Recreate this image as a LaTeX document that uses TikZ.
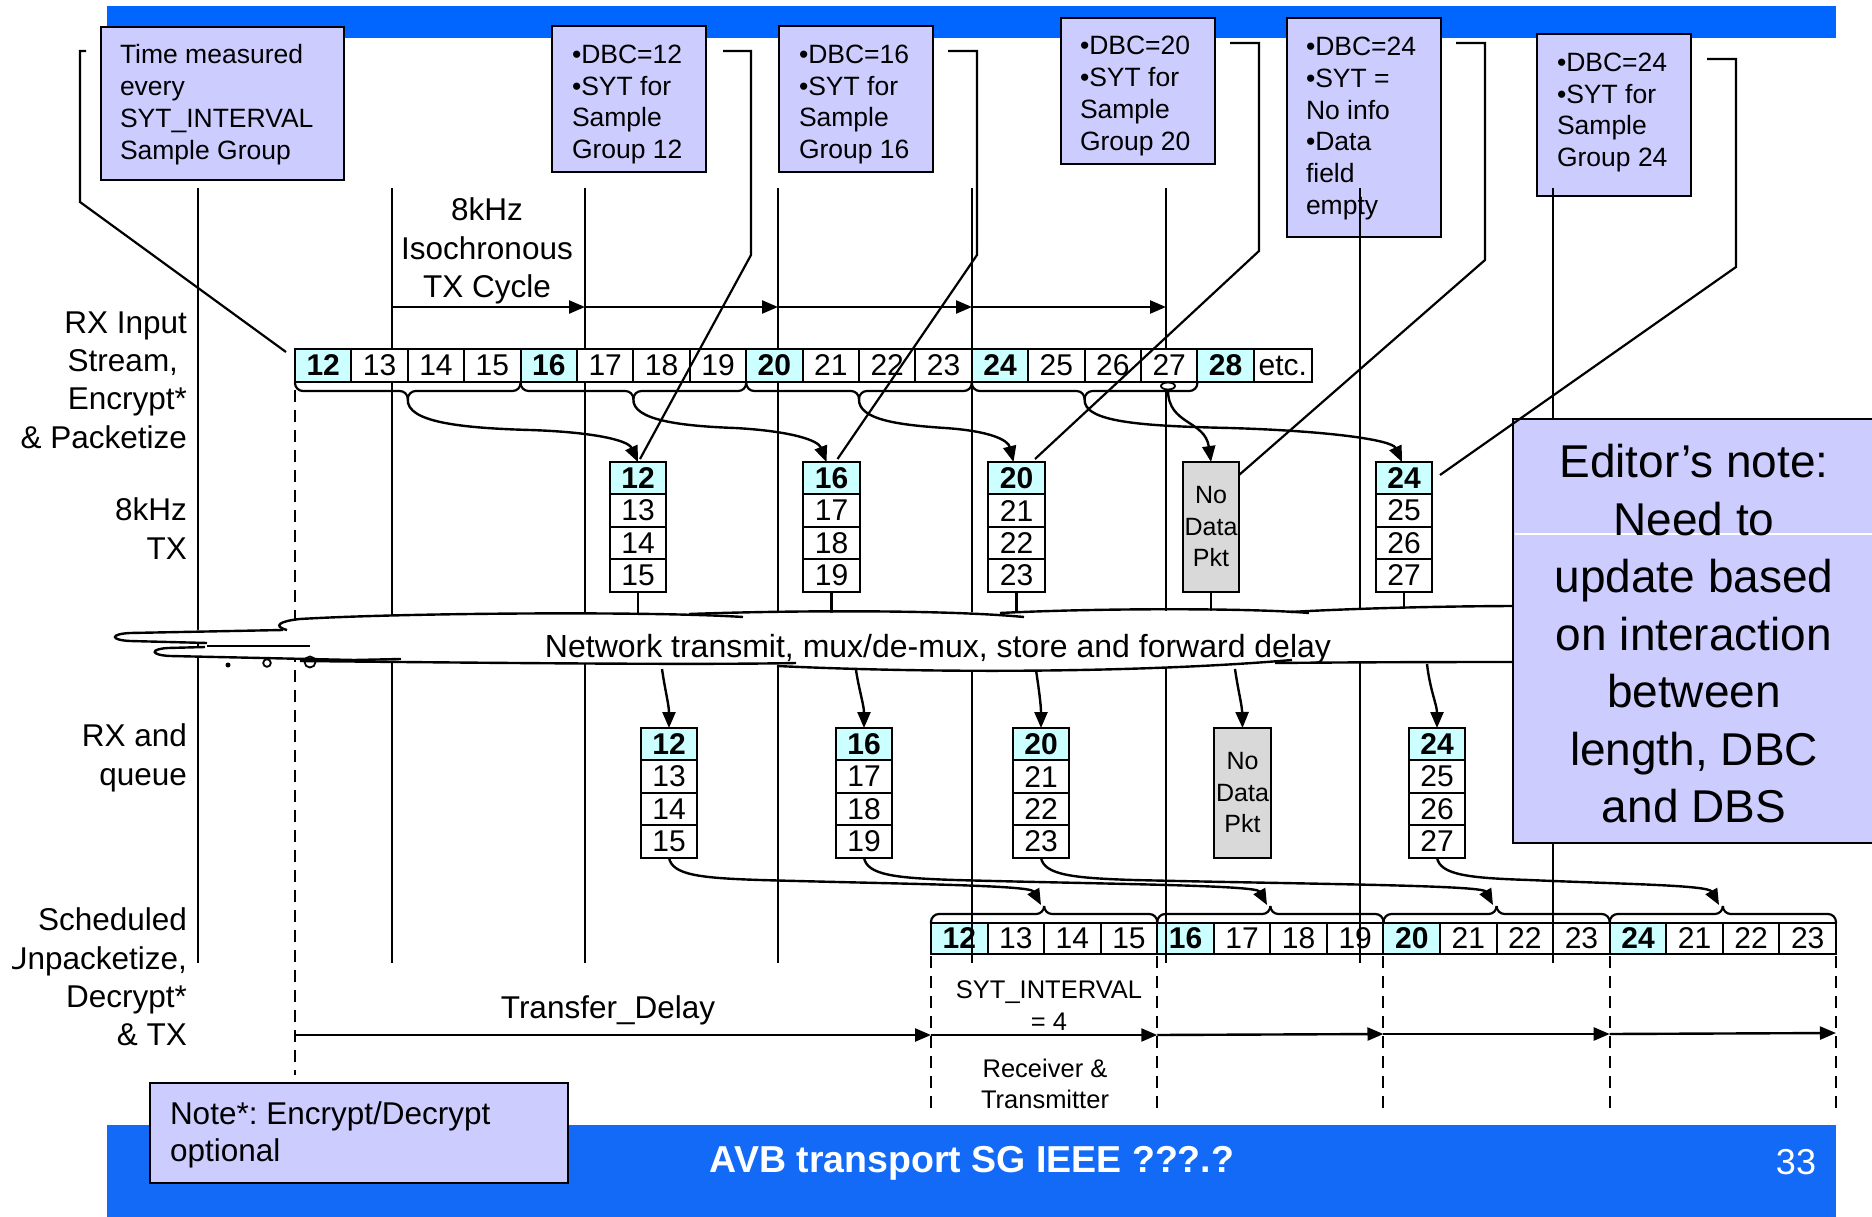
\documentclass[tikz,border=0pt]{standalone}
\usepackage{fontspec}
\setmainfont{Liberation Sans}
\usetikzlibrary{arrows.meta}
\definecolor{barblue}{RGB}{0,102,255}
\definecolor{barbluetwo}{RGB}{18,106,246}
\definecolor{lav}{RGB}{204,204,255}
\definecolor{cyanc}{RGB}{204,255,255}
\definecolor{grayc}{RGB}{217,217,217}
\newcommand{\fsz}[2]{\fontsize{#1}{#2}\selectfont}
\frenchspacing
% packet column: name, x, y, width, first number
\newcommand{\pktcol}[5]{%
  \pgfmathtruncatemacro{\pkb}{#5+1}\pgfmathtruncatemacro{\pkc}{#5+2}\pgfmathtruncatemacro{\pkd}{#5+3}%
  \node[hcell, minimum width=#4pt, minimum height=32.4pt, anchor=north west] (#1-1) at (#2,#3) {#5};
  \node[cell, minimum width=#4pt, minimum height=32.4pt, anchor=north] (#1-2) at (#1-1.south) {\pkb};
  \node[cell, minimum width=#4pt, minimum height=32.4pt, anchor=north] (#1-3) at (#1-2.south) {\pkc};
  \node[cell, minimum width=#4pt, minimum height=32.4pt, anchor=north] (#1-4) at (#1-3.south) {\pkd};
}
% brace: x1, x2, y0, direction (+1 down, -1 up)
\newcommand{\bracex}[4]{%
  \pgfmathsetmacro{\bxm}{(#1+#2)/2}%
  \draw[brc] (#1,#3) -- (#1,#3+#4*9) -- (\bxm,#3+#4*9) -- (\bxm,#3+#4*17);
  \draw[brc] (#2,#3) -- (#2,#3+#4*9) -- (\bxm,#3+#4*9) -- (\bxm,#3+#4*17);
}
\begin{document}
\begin{tikzpicture}[x=1pt,y=-1pt,
  every node/.append style={inner sep=0pt, outer sep=0pt},
  grid/.style={line width=2.6pt},
  dashv/.style={line width=2pt, dash pattern=on 12pt off 8pt},
  cell/.style={draw, line width=2pt, fill=white, minimum width=56.4pt, minimum height=33pt, font={\fsz{30}{30}}},
  hcell/.style={cell, fill=cyanc, font={\fsz{30}{30}\bfseries}},
  gcell/.style={draw, line width=2pt, fill=grayc, align=center, font={\fsz{25}{31.5}}},
  callbox/.style={draw, line width=2.5pt, fill=lav, anchor=north west},
  calltext/.style={align=left, anchor=west, font={\fsz{26.5}{31.8}}},
  conn/.style={line width=2.2pt},
  arr/.style={line width=2.4pt, -{Triangle[length=16pt,width=13pt]}},
  brc/.style={line width=2.2pt, rounded corners=8pt},
  cl/.style={line width=2.4pt},
  lbl/.style={align=right, anchor=east, font={\fsz{31.5}{38.3}}}]
\useasboundingbox (0,0) rectangle (1872,1217);

% ---------- blue bars
\fill[barblue] (107,6) rectangle (1836,38);
\fill[barbluetwo] (107,1125) rectangle (1836,1217);

% ---------- callout boxes
\node[callbox, minimum width=243pt, minimum height=153pt] (tbox) at (101,27) {};
\node[calltext] (ttxt) at (120,104.5) {Time measured\\every\\SYT\_INTERVAL\\Sample Group};
\node[callbox, minimum width=154pt, minimum height=146pt] (b12) at (552,26) {};
\node[calltext] (b12t) at (572,104.5) {•DBC=12\\•SYT for\\Sample\\Group 12};
\node[callbox, minimum width=154pt, minimum height=146pt] (b16) at (779,26) {};
\node[calltext] (b16t) at (799,104.5) {•DBC=16\\•SYT for\\Sample\\Group 16};
\node[callbox, minimum width=154pt, minimum height=146pt] (b20) at (1061,18) {};
\node[calltext] (b20t) at (1080,96) {•DBC=20\\•SYT for\\Sample\\Group 20};
\node[callbox, minimum width=154pt, minimum height=219pt] (b24n) at (1287,18) {};
\node[calltext] (b24nt) at (1306,128.5) {•DBC=24\\•SYT =\\No info\\•Data\\field\\empty};
\node[callbox, minimum width=154pt, minimum height=162pt] (b24) at (1537,34) {};
\node[calltext] (b24t) at (1557,112.5) {•DBC=24\\•SYT for\\Sample\\Group 24};

% ---------- output stream (under the grid lines)
\foreach \n [count=\i from 0] in {12,13,14,15,16,17,18,19,20,21,22,23,24,21,22,23} {
  \pgfmathtruncatemacro{\md}{mod(\n,4)}
  \ifnum\md=0
    \node[hcell, minimum width=56.56pt, minimum height=31pt, anchor=north west] (out\i) at ({931+56.56*\i},923) {\n};
  \else
    \node[cell, minimum width=56.56pt, minimum height=31pt, anchor=north west] (out\i) at ({931+56.56*\i},923) {\n};
  \fi
}
\bracex{931}{1157.24}{923}{-1}
\bracex{1157.24}{1383.48}{923}{-1}
\bracex{1383.48}{1609.72}{923}{-1}
\bracex{1609.72}{1835.96}{923}{-1}

% ---------- grid lines
\foreach \x [count=\i] in {198,392,585,778,972,1166,1360,1553} {
  \coordinate (gt\i) at (\x,188);
  \coordinate (gb\i) at (\x,963);
  \draw[grid] (gt\i) -- (gb\i);
}

% ---------- dashed lines
\coordinate (d0t) at (295,390); \coordinate (d0b) at (295,1075);
\draw[dashv] (d0t) -- (d0b);
\foreach \x [count=\i] in {931,1157.24,1383.48,1609.72,1835.96} {
  \coordinate (odt\i) at (\x,956);
  \coordinate (odb\i) at (\x,1113);
  \draw[dashv] (odt\i) -- (odb\i);
}

% ---------- 8kHz cycle arrows
\foreach \x [count=\i] in {392,585,778,972,1166} { \coordinate (cy\i) at (\x,307); }
\draw[arr] (cy1) -- (cy2);
\draw[arr] (cy2) -- (cy3);
\draw[arr] (cy3) -- (cy4);
\draw[arr] (cy4) -- (cy5);
\node[font={\fsz{31.5}{38.3}}, align=center] (cyc) at (487,251) {8kHz\\Isochronous\\TX Cycle};

% ---------- input stream
\foreach \n [count=\i from 0] in {12,...,28} {
  \pgfmathtruncatemacro{\md}{mod(\n,4)}
  \ifnum\md=0
    \node[hcell, anchor=north west] (in\n) at ({295+56.4*\i},349) {\n};
  \else
    \node[cell, anchor=north west] (in\n) at ({295+56.4*\i},349) {\n};
  \fi
}
\node[cell, anchor=north west, minimum width=58pt] (inetc) at (1253.8,349) {etc.};
\bracex{295}{520.6}{382}{1}
\bracex{520.6}{746.2}{382}{1}
\bracex{746.2}{971.8}{382}{1}
\bracex{971.8}{1197.4}{382}{1}
\draw[line width=1.8pt, fill=white] (1168,386) ellipse [x radius=7pt, y radius=3.5pt];
\coordinate (ov) at (1168,390);
\coordinate (bt1) at (407.8,399);
\coordinate (bt2) at (633.4,399);
\coordinate (bt3) at (859,399);
\coordinate (bt4) at (1084.6,399);

% ---------- 8kHz TX packets
\pktcol{txA}{610}{462}{56}{12}
\pktcol{txB}{803}{462}{57}{16}
\pktcol{txC}{988}{462}{57}{20}
\node[gcell, anchor=north west, minimum width=56pt, minimum height=129.6pt] (nd1) at (1183,462) {No\\Data\\Pkt};
\pktcol{txE}{1376}{462}{56}{24}

\draw[arr] (bt1) .. controls (406,422) and (460,428) .. (530,430) .. controls (592,432) and (628,440) .. (txA-1.north);
\draw[arr] (bt2) .. controls (632,420) and (680,426) .. (735,428) .. controls (790,431) and (818,440) .. ([xshift=-5pt]txB-1.north);
\draw[arr] (bt3) .. controls (858,420) and (900,425) .. (945,428) .. controls (990,431) and (1008,440) .. ([xshift=-3pt]txC-1.north);
\draw[arr] (bt4) .. controls (1083,422) and (1140,426) .. (1230,428) .. controls (1330,431) and (1392,440) .. ([xshift=-2pt]txE-1.north);
\draw[arr] (ov) .. controls (1168,425) and (1205,420) .. (nd1.north);

% packet to cloud
\coordinate (ctA) at (638,615);
\coordinate (ctB) at (831.5,614);
\coordinate (ctC) at (1016.5,614);
\coordinate (ctD) at (1211,613);
\coordinate (ctE) at (1404,612);
\draw[conn] (txA-4.south) -- (ctA);
\draw[conn] (txB-4.south) -- (ctB);
\draw[conn] (txC-4.south) -- (ctC);
\draw[conn] (nd1.south) -- (ctD);
\draw[conn] (txE-4.south) -- (ctE);

% ---------- network cloud
\fill[white] (283,626) .. controls (290,617) and (330,616) .. (420,615) -- (743,613) -- (1024,612) -- (1309,610) -- (1520,607)
  -- (1520,664) -- (1292,662) .. controls (1150,672) and (900,672) .. (777,665) -- (354,661) -- (170,657)
  .. controls (148,655) and (148,649) .. (165,648) -- (205,647) -- (207,643) -- (130,641)
  .. controls (108,639) and (108,634) .. (130,633) -- cycle;
\draw[cl] (743,617) .. controls (650,611) and (400,613) .. (300,619) .. controls (280,621) and (272,626) .. (287,630);
\draw[cl] (283,630) -- (130,633) .. controls (110,634) and (110,640) .. (130,641) -- (207,643);
\draw[cl] (207,646) -- (310,646);
\draw[cl] (205,647) -- (168,648) .. controls (150,649) and (150,655) .. (170,656) -- (354,660) -- (401,659);
\draw[cl] (300,661) .. controls (500,663) and (700,665) .. (796,663);
\draw[cl] (777,666) .. controls (950,674) and (1150,672) .. (1292,660);
\draw[cl] (1275,663) .. controls (1380,662) and (1480,662) .. (1520,662);
\draw[cl] (689,614) .. controls (800,610) and (950,610) .. (1024,617);
\draw[cl] (1000,613) .. controls (1100,608) and (1250,608) .. (1309,613);
\draw[cl] (1290,612) .. controls (1380,607) and (1480,606) .. (1520,606);
\fill (228,665) circle (2.5pt);
\draw[line width=1.8pt] (267,663) circle (3.8pt);
\draw[line width=1.8pt] (310,662) circle (5.5pt);
\node[font={\fsz{32}{38}}] (net) at (938,649) {Network transmit, mux/de-mux, store and forward delay};

% ---------- RX queue packets
\pktcol{qA}{641}{728}{56}{12}
\pktcol{qB}{836}{728}{56}{16}
\pktcol{qC}{1013}{728}{56}{20}
\node[gcell, anchor=north west, minimum width=57pt, minimum height=129.6pt] (nd2) at (1214,728) {No\\Data\\Pkt};
\pktcol{qE}{1409}{728}{56}{24}

\coordinate (cbA) at (662,669);
\coordinate (cbB) at (856,670);
\coordinate (cbC) at (1036,670);
\coordinate (cbD) at (1235,669);
\coordinate (cbE) at (1427,664);
\draw[arr] (cbA) .. controls (665,690) and (669,705) .. (qA-1.north);
\draw[arr] (cbB) .. controls (859,690) and (864,705) .. (qB-1.north);
\draw[arr] (cbC) .. controls (1039,690) and (1041,705) .. (qC-1.north);
\draw[arr] (cbD) .. controls (1238,690) and (1242,705) .. (nd2.north);
\draw[arr] (cbE) .. controls (1430,690) and (1437,705) .. (qE-1.north);

% queue to output
\coordinate (ob1) at (1041,905);
\coordinate (ob2) at (1267,905);
\coordinate (ob3) at (1493,905);
\coordinate (ob4) at (1719,905);
\draw[arr] (qA-4.south) .. controls (672,875) and (700,878) .. (760,880) .. controls (900,884) and (1030,885) .. (ob1);
\draw[arr] (qB-4.south) .. controls (867,875) and (895,878) .. (955,880) .. controls (1100,884) and (1256,885) .. (ob2);
\draw[arr] (qC-4.south) .. controls (1044,875) and (1073,878) .. (1133,880) .. controls (1300,884) and (1482,885) .. (ob3);
\draw[arr] (qE-4.south) .. controls (1440,875) and (1469,878) .. (1529,880) .. controls (1620,884) and (1708,885) .. (ob4);

% ---------- editor's note
\fill[lav] (1513,419) rectangle (1872,843);
\draw[line width=2.5pt] (1872,419) -- (1513,419) -- (1513,843) -- (1872,843);
\draw[white, line width=1.2pt] (1515,534) -- (1872,534);
\node[font={\fsz{46}{57.5}}, align=center] (ednote) at (1694,634) {Editor’s note:\\Need to\\update based\\on interaction\\between\\length, DBC\\and DBS};

% ---------- transfer delay arrows
\coordinate (tr0) at (295,1035);
\coordinate (tr1) at (931,1035);
\coordinate (tr2) at (1157.24,1035);
\coordinate (tr3) at (1383.48,1034);
\coordinate (tr4) at (1609.72,1034);
\coordinate (tr5) at (1835.96,1033);
\draw[arr] (tr0) -- (tr1);
\draw[arr] (tr1) -- (tr2);
\draw[arr] (tr2) -- (tr3);
\draw[arr] (tr3) -- (tr4);
\draw[arr] (tr4) -- (tr5);
\node[font={\fsz{31.5}{36}}] (tdel) at (608,1010) {Transfer\_Delay};
\node[font={\fsz{25.5}{32}}, align=center] (syt) at (1049,1006) {SYT\_INTERVAL\\= 4};
\node[font={\fsz{25.5}{31}}, align=center] (rxtx) at (1045,1084) {Receiver \&\\Transmitter};

% ---------- callout connectors
\coordinate (k0a) at (86,51); \coordinate (k0b) at (80,51); \coordinate (k0c) at (80,202);
\draw[conn] (k0a) -- (k0b) -- (k0c) -- ([xshift=-9pt,yshift=-3pt]in12.north west);
\coordinate (k1a) at (723,51); \coordinate (k1b) at (751,51); \coordinate (k1c) at (751,255);
\draw[conn] (k1a) -- (k1b) -- (k1c) -- ([xshift=2pt,yshift=3pt]txA-1.north);
\coordinate (k2a) at (948,51); \coordinate (k2b) at (977,51); \coordinate (k2c) at (977,255);
\draw[conn] (k2a) -- (k2b) -- (k2c) -- ([xshift=6pt,yshift=3pt]txB-1.north);
\coordinate (k3a) at (1230,43); \coordinate (k3b) at (1259,43); \coordinate (k3c) at (1259,251);
\draw[conn] (k3a) -- (k3b) -- (k3c) -- ([xshift=-10pt,yshift=3pt]txC-1.north east);
\coordinate (k4a) at (1456,43); \coordinate (k4b) at (1485,43); \coordinate (k4c) at (1485,260);
\draw[conn] (k4a) -- (k4b) -- (k4c) -- ([yshift=-13pt]nd1.north east);
\coordinate (k5a) at (1707,59); \coordinate (k5b) at (1736,59); \coordinate (k5c) at (1736,267);
\draw[conn] (k5a) -- (k5b) -- (k5c) -- ([xshift=8pt,yshift=-13pt]txE-1.north east);

% ---------- left labels
\node[lbl] (lab1) at (187,380) {RX Input\\Stream,\rule{9pt}{0pt}\\Encrypt*\\\& Packetize};
\node[lbl] (lab2) at (187,528.5) {8kHz\\TX};
\node[lbl] (lab3) at (187,758) {RX and\\queue};
\begin{scope}
  \clip (12,880) rectangle (200,1070);
  \node[lbl] (lab4) at (187,977) {Scheduled\\Unpacketize,\\Decrypt*\\\& TX};
\end{scope}

% ---------- bottom note and footer
\node[callbox, minimum width=418pt, minimum height=100pt] (nbox) at (150,1083) {};
\node[align=left, anchor=west, font={\fsz{31.5}{37}}] (ntxt) at (170,1135) {Note*: Encrypt/Decrypt\\optional};
\node[font={\fsz{37.5}{40}\bfseries}, text=white] (foot) at (972,1163) {AVB transport SG IEEE ???.?};
\node[font={\fsz{36}{40}}, text=white] (pg) at (1796,1162) {33};
\end{tikzpicture}
\end{document}
